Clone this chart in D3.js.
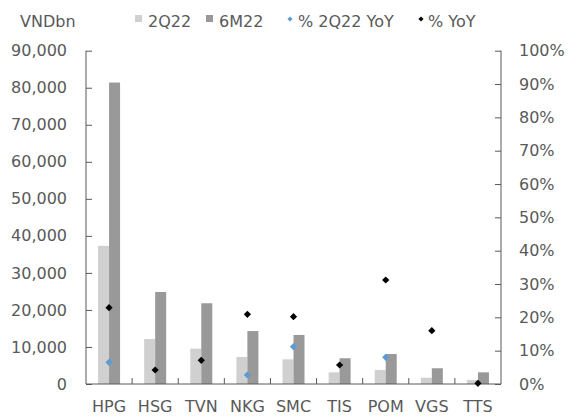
<!DOCTYPE html>
<html><head><meta charset="utf-8">
<script src="https://cdn.jsdelivr.net/npm/d3@7"></script>
<style>body{margin:0;background:#fff}text{font-family:"DejaVu Sans",sans-serif;fill:#595959}</style>
</head><body><svg id="c" width="570" height="418"></svg>
<script>
const categories = ["HPG","HSG","TVN","NKG","SMC","TIS","POM","VGS","TTS"];
const q2 = [37300,12150,9550,7300,6650,3150,3800,1700,1100];
const m6 = [81400,24850,21800,14300,13250,6950,8100,4250,3150];
const q2YoY = [6.5,null,null,2.7,11.2,null,8.0,null,null];
const yoy = [22.9,4.2,7.1,20.9,20.2,5.7,31.2,16.0,0.2];
const leftTicks = [0,10000,20000,30000,40000,50000,60000,70000,80000,90000];
const rightTicks = [0,10,20,30,40,50,60,70,80,90,100];

const svg = d3.select("#c");
const L=86,R=501,T=50.7,B=384;
const FS="16px";
const x = d3.scaleBand().domain(categories).range([L,R]).paddingInner(0).paddingOuter(0);
const y = d3.scaleLinear().domain([0,90000]).range([B,T]);
const y2 = d3.scaleLinear().domain([0,100]).range([B,T]);
const bw = 11;

const axisColor="#595959";
svg.append("g").selectAll("rect").data(categories).join("rect")
  .attr("x",d=>x(d)+x.bandwidth()/2-bw).attr("width",bw)
  .attr("y",(d,i)=>y(q2[i])).attr("height",(d,i)=>B-y(q2[i])).attr("fill","#d0d0d0");
svg.append("g").selectAll("rect").data(categories).join("rect")
  .attr("x",d=>x(d)+x.bandwidth()/2).attr("width",bw)
  .attr("y",(d,i)=>y(m6[i])).attr("height",(d,i)=>B-y(m6[i])).attr("fill","#999999");

const gl = svg.append("g").attr("transform",`translate(${L},0)`)
  .call(d3.axisLeft(y).tickValues(leftTicks).tickSize(-6).tickPadding(19).tickFormat(d3.format(",")));
const gr = svg.append("g").attr("transform",`translate(${R},0)`)
  .call(d3.axisRight(y2).tickValues(rightTicks).tickSize(-6).tickPadding(18).tickFormat(d=>d+"%"));
const gb = svg.append("g").attr("transform",`translate(0,${B})`)
  .call(d3.axisBottom(x).tickSize(0).tickPadding(17));
gb.selectAll(".tick text").attr("dy","0.71em");
svg.append("g").selectAll("line").data(categories.slice(1)).join("line")
  .attr("x1",d=>x(d)).attr("x2",d=>x(d)).attr("y1",B).attr("y2",B-6).attr("stroke",axisColor);
[gl,gr,gb].forEach(g=>{g.selectAll("path,line").attr("stroke",axisColor);g.selectAll("text").style("font-size",FS).attr("fill","#595959");});
gl.select(".domain").attr("d",`M0,${T}V${B}`);
gr.select(".domain").attr("d",`M0,${T}V${B}`);
gb.select(".domain").attr("d",`M${L},0H${R}`);

const dia = r => `M0,${-r}L${r},0L0,${r}L${-r},0Z`;
svg.append("g").selectAll("path").data(categories.map((c,i)=>[c,q2YoY[i]]).filter(d=>d[1]!=null)).join("path")
  .attr("d",dia(3.6)).attr("transform",d=>`translate(${x(d[0])+x.bandwidth()/2},${y2(d[1])})`).attr("fill","#5b9bd5");
svg.append("g").selectAll("path").data(categories.map((c,i)=>[c,yoy[i]]).filter(d=>d[1]!=null)).join("path")
  .attr("d",dia(3.6)).attr("transform",d=>`translate(${x(d[0])+x.bandwidth()/2},${y2(d[1])})`).attr("fill","#000");

svg.append("text").attr("x",20).attr("y",27).style("font-size",FS).text("VNDbn");
const lg = svg.append("g");
lg.append("rect").attr("x",135).attr("y",15).attr("width",7).attr("height",7).attr("fill","#d0d0d0");
lg.append("text").attr("x",148).attr("y",27).style("font-size",FS).text("2Q22");
lg.append("rect").attr("x",206).attr("y",15).attr("width",7).attr("height",7).attr("fill","#999999");
lg.append("text").attr("x",219).attr("y",27).style("font-size",FS).text("6M22");
lg.append("path").attr("d",dia(2.6)).attr("transform","translate(290,19)").attr("fill","#5b9bd5");
lg.append("text").attr("x",298).attr("y",27).style("font-size",FS).text("% 2Q22 YoY");
lg.append("path").attr("d",dia(2.6)).attr("transform","translate(421,19)").attr("fill","#000");
lg.append("text").attr("x",428).attr("y",27).style("font-size",FS).text("% YoY");
</script></body></html>
